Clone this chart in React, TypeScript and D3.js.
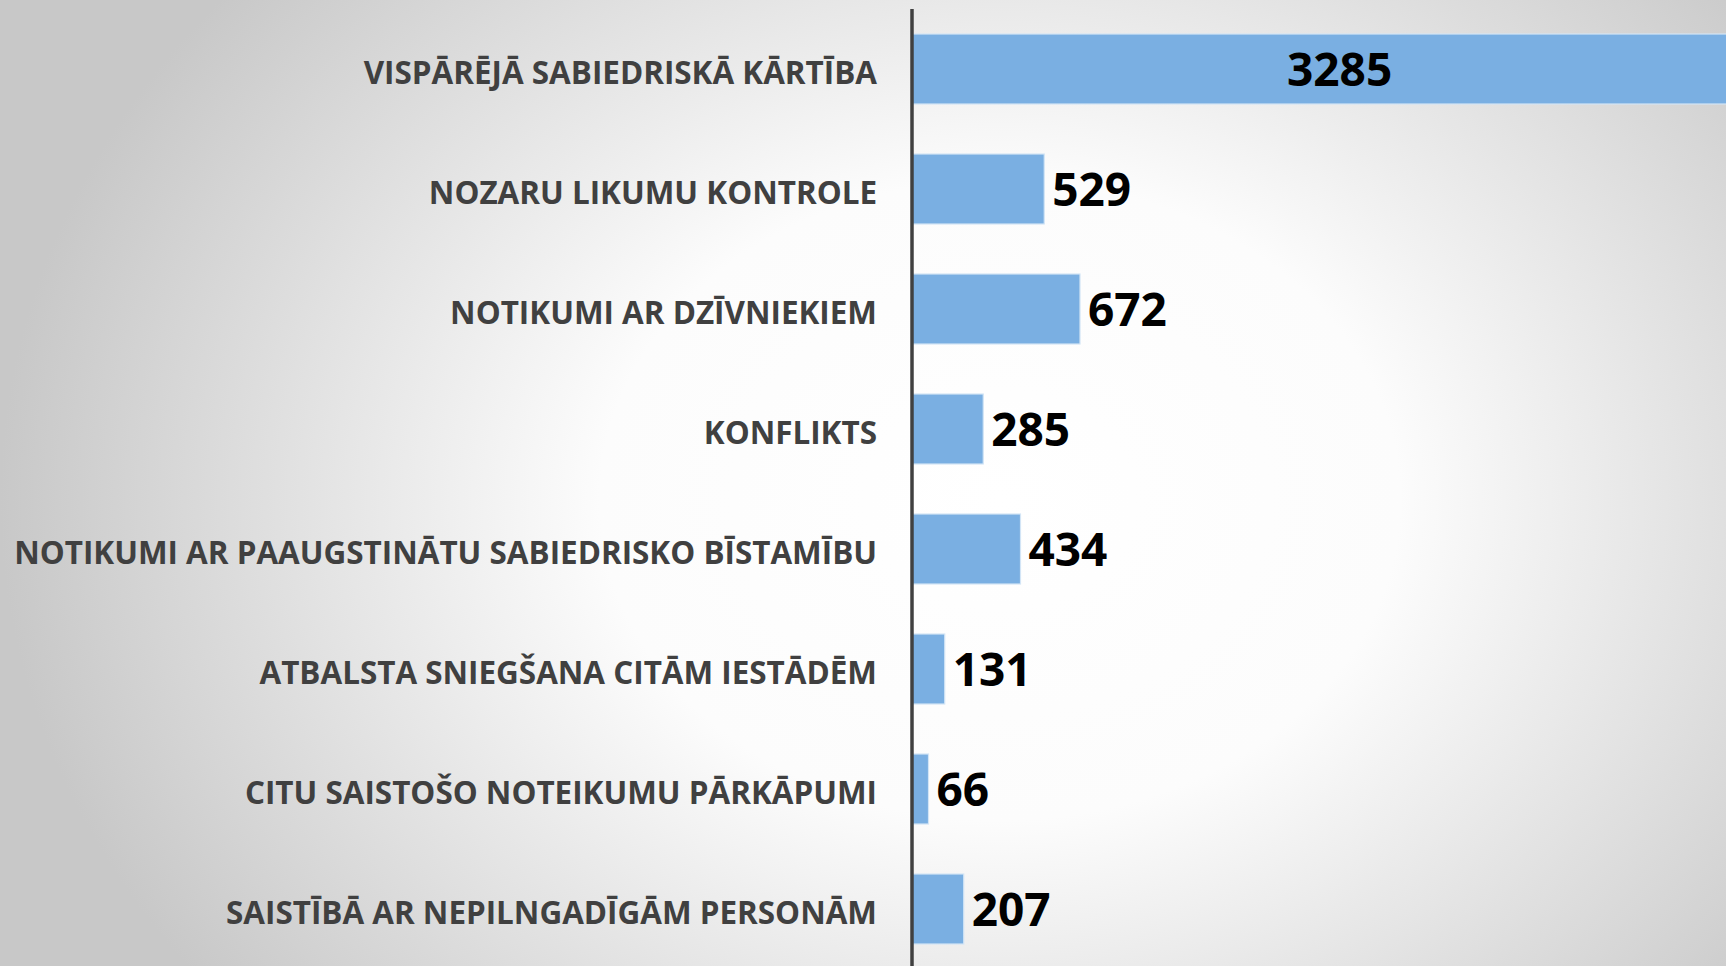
import { useEffect, useRef } from 'react';
import * as d3 from 'd3';

const categories = [
  'VISPĀRĒJĀ SABIEDRISKĀ KĀRTĪBA',
  'NOZARU LIKUMU KONTROLE',
  'NOTIKUMI AR DZĪVNIEKIEM',
  'KONFLIKTS',
  'NOTIKUMI AR PAAUGSTINĀTU SABIEDRISKO BĪSTAMĪBU',
  'ATBALSTA SNIEGŠANA CITĀM IESTĀDĒM',
  'CITU SAISTOŠO NOTEIKUMU PĀRKĀPUMI',
  'SAISTĪBĀ AR NEPILNGADĪGĀM PERSONĀM',
];
const values = [3285, 529, 672, 285, 434, 131, 66, 207];
const xMax = 3400;

const App = () => {
  const ref = useRef<SVGSVGElement>(null);

  useEffect(() => {
    if (!ref.current) return;
    document.body.style.margin = '0';

    const width = 1726;
    const height = 966;
    const svg = d3.select(ref.current);
    svg.selectAll('*').remove();
    svg.attr('width', width).attr('height', height);

    // background: soft elliptical glow like the slide
    const grad = svg.append('defs')
      .append('radialGradient')
      .attr('id', 'bg')
      .attr('gradientUnits', 'userSpaceOnUse')
      .attr('cx', 0).attr('cy', 0).attr('r', 1000)
      .attr('gradientTransform', 'translate(1000,500) scale(1,0.8)');
    grad.append('stop').attr('offset', 0).attr('stop-color', '#ffffff');
    grad.append('stop').attr('offset', 0.4).attr('stop-color', '#fcfcfc');
    grad.append('stop').attr('offset', 1).attr('stop-color', '#c8c8c8');

    svg.append('rect')
      .attr('width', width).attr('height', height)
      .attr('fill', 'url(#bg)');

    const x = d3.scaleLinear().domain([0, xMax]).range([912, 1762]);
    const y = d3.scaleBand<string>()
      .domain(categories)
      .range([9, 969])
      .paddingInner(50 / 120)
      .paddingOuter(25 / 120);
    const bw = y.bandwidth();

    const rows = categories.map((c, i) => ({ c, v: values[i] }));

    // bars
    svg.append('g')
      .selectAll('rect')
      .data(rows)
      .join('rect')
      .attr('x', x(0))
      .attr('y', d => y(d.c)!)
      .attr('width', d => x(d.v) - x(0))
      .attr('height', bw)
      .attr('fill', '#7aafe2')
      .attr('stroke', '#d3e5f6')
      .attr('stroke-width', 1.2);

    // axis line
    svg.append('line')
      .attr('x1', x(0)).attr('x2', x(0))
      .attr('y1', 9).attr('y2', height)
      .attr('stroke', '#404040')
      .attr('stroke-width', 3.5);

    // category labels
    const labelRight = 877;
    const labels = svg.append('g')
      .selectAll('text')
      .data(rows)
      .join('text')
      .attr('x', 0)
      .attr('y', d => y(d.c)! + bw / 2 + 15)
      .attr('text-anchor', 'end')
      .attr('font-family', '"Open Sans", sans-serif')
      .attr('font-weight', 700)
      .attr('font-size', 33)
      .attr('fill', '#404040')
      .text(d => d.c);

    // squeeze to the narrow look of the original font
    let longest = 0;
    labels.each(function () {
      longest = Math.max(longest, (this as SVGTextElement).getComputedTextLength());
    });
    const sx = longest > 0 ? 863 / longest : 1;
    labels.attr('transform', `translate(${labelRight},0) scale(${sx},1)`);

    // value labels
    svg.append('g')
      .selectAll('text')
      .data(rows)
      .join('text')
      .attr('x', d => (x(d.v) > width ? (x(0) + x(d.v)) / 2 + 17 : x(d.v) + 8))
      .attr('y', d => y(d.c)! + bw / 2 + 17)
      .attr('text-anchor', d => (x(d.v) > width ? 'middle' : 'start'))
      .attr('font-family', '"Open Sans", sans-serif')
      .attr('font-weight', 700)
      .attr('font-size', 46)
      .attr('fill', '#000000')
      .text(d => d.v);
  }, []);

  return <svg ref={ref} style={{ display: 'block' }} />;
};

export default App;
